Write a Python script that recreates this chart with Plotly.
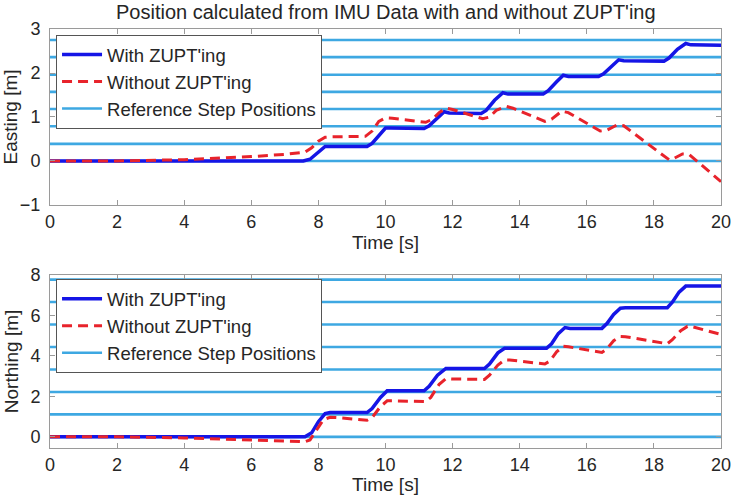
import plotly.graph_objects as go

# ---------------- data ----------------
title_text = "Position calculated from IMU Data with and without ZUPT'ing"

# Easting (top)
t_zupt_e = [0, 7.55, 7.75, 8.0, 8.2, 8.35, 9.45, 9.6, 9.85, 10.0, 10.15, 11.15, 11.3, 11.55, 11.75, 11.9,
            12.85, 13.0, 13.25, 13.5, 13.65, 14.7, 14.85, 15.1, 15.3, 15.45, 16.35, 16.5, 16.75, 16.95, 17.1,
            18.3, 18.45, 18.7, 18.95, 19.1, 20]
east_zupt = [0, 0, 0.04, 0.2, 0.33, 0.33, 0.33, 0.4, 0.62, 0.75, 0.75, 0.74, 0.8, 0.98, 1.12, 1.09,
             1.08, 1.15, 1.38, 1.55, 1.52, 1.52, 1.6, 1.8, 1.95, 1.92, 1.92, 1.98, 2.16, 2.3, 2.28,
             2.27, 2.34, 2.54, 2.67, 2.64, 2.63]

t_raw_e = [0, 2, 4, 5, 6, 7, 7.6, 7.8, 8.0, 8.2, 8.4, 9.4, 9.6, 9.8, 10.0, 10.2, 11.2, 11.4, 11.6, 11.8, 12.0,
           12.9, 13.1, 13.3, 13.6, 13.8, 14.75, 14.95, 15.25, 15.45, 16.4, 16.6, 16.9, 17.1, 18.45, 18.6,
           18.85, 19.05, 20]
east_raw = [0, 0, 0.03, 0.06, 0.1, 0.15, 0.2, 0.3, 0.45, 0.54, 0.55, 0.56, 0.68, 0.9, 0.98, 0.97, 0.88, 0.95,
            1.1, 1.2, 1.17, 0.96, 1.0, 1.15, 1.24, 1.2, 0.9, 0.95, 1.13, 1.1, 0.68, 0.7, 0.82, 0.8, 0.03, 0.06,
            0.16, 0.15, -0.47]

east_ref_levels = [0, 0.39, 0.79, 1.18, 1.57, 1.96, 2.36, 2.75]

# Northing (bottom)
t_zupt_n = [0, 7.6, 7.8, 8.0, 8.2, 8.35, 9.45, 9.6, 9.85, 10.05, 10.2, 11.15, 11.3, 11.55, 11.8, 11.95,
            12.95, 13.1, 13.35, 13.55, 13.7, 14.8, 14.95, 15.15, 15.35, 15.5, 16.45, 16.6, 16.8, 17.0, 17.15,
            18.4, 18.55, 18.75, 18.95, 19.1, 20]
north_zupt = [0, 0, 0.2, 0.75, 1.15, 1.2, 1.2, 1.4, 1.95, 2.28, 2.28, 2.28, 2.5, 3.05, 3.38, 3.38,
              3.38, 3.6, 4.15, 4.38, 4.38, 4.38, 4.6, 5.1, 5.4, 5.36, 5.36, 5.6, 6.05, 6.36, 6.38,
              6.38, 6.65, 7.15, 7.45, 7.46, 7.46]

t_raw_n = [0, 2, 4, 5, 6, 7, 7.6, 7.75, 7.95, 8.15, 8.35, 8.6, 9.45, 9.6, 9.85, 10.05, 10.2, 11.2, 11.35, 11.6,
           11.8, 12.0, 12.95, 13.1, 13.35, 13.55, 13.7, 14.75, 14.9, 15.1, 15.3, 15.45, 16.45, 16.6, 16.8, 17.0,
           17.15, 18.4, 18.55, 18.8, 19.0, 19.15, 20]
north_raw = [0, 0, -0.05, -0.1, -0.15, -0.2, -0.24, -0.15, 0.35, 0.85, 0.97, 0.95, 0.82, 0.95, 1.5, 1.78, 1.78,
             1.75, 1.95, 2.6, 2.88, 2.86, 2.84, 3.05, 3.55, 3.8, 3.8, 3.6, 3.75, 4.2, 4.48, 4.45, 4.17, 4.35,
             4.75, 4.96, 4.95, 4.6, 4.8, 5.25, 5.46, 5.44, 5.06]

north_ref_levels = [0, 1.11, 2.22, 3.33, 4.44, 5.55, 6.66, 7.77]

t_range = [0, 20]
x_ticks = [0, 2, 4, 6, 8, 10, 12, 14, 16, 18, 20]
east_ticks = [-1, 0, 1, 2, 3]
north_ticks = [0, 2, 4, 6, 8]

# ---------------- styles ----------------
BLUE = "#1515e6"
RED = "#e8232b"
REF = "#3ea8e2"
FONT = "Liberation Sans, Arial, sans-serif"
TXT = "#262626"
AX = "#9a9a9a"


def ref_xy(levels):
    xs, ys = [], []
    for lv in levels:
        xs += [t_range[0], t_range[1], None]
        ys += [lv, lv, None]
    return xs, ys


fig = go.Figure()

for (levels, tz, vz, tr, vr, xa, ya, lg) in [
    (east_ref_levels, t_zupt_e, east_zupt, t_raw_e, east_raw, "x", "y", "legend"),
    (north_ref_levels, t_zupt_n, north_zupt, t_raw_n, north_raw, "x2", "y2", "legend2"),
]:
    rx, ry = ref_xy(levels)
    fig.add_trace(go.Scatter(x=rx, y=ry, mode="lines", name="Reference Step Positions",
                             line=dict(color=REF, width=2.6), xaxis=xa, yaxis=ya,
                             legend=lg, legendrank=3, hoverinfo="skip"))
    fig.add_trace(go.Scatter(x=tz, y=vz, mode="lines", name="With ZUPT'ing",
                             line=dict(color=BLUE, width=3.5), xaxis=xa, yaxis=ya,
                             legend=lg, legendrank=1))
    fig.add_trace(go.Scatter(x=tr, y=vr, mode="lines", name="Without ZUPT'ing",
                             line=dict(color=RED, width=3, dash="10px,6px"), xaxis=xa, yaxis=ya,
                             legend=lg, legendrank=2))

axis_common = dict(showline=True, linecolor=AX, linewidth=1, mirror="ticks", ticks="inside",
                   ticklen=5, tickcolor=AX, showgrid=False, zeroline=False, automargin=False,
                   tickfont=dict(family=FONT, size=18, color=TXT))

legend_common = dict(bgcolor="white", bordercolor="#555", borderwidth=1, xanchor="left",
                     yanchor="top", font=dict(family=FONT, size=18.5, color=TXT), itemwidth=40,
                     traceorder="normal", tracegroupgap=0)

xtitle = dict(text="Time [s]", font=dict(family=FONT, size=19, color=TXT), standoff=0)

fig.update_layout(
    width=739, height=495,
    margin=dict(l=50, r=18, t=29, b=47),
    paper_bgcolor="white", plot_bgcolor="white",
    showlegend=True,
    xaxis=dict(domain=[0, 1], range=t_range, tickvals=x_ticks, anchor="y", ticklabelstandoff=0,
               title=xtitle, **axis_common),
    yaxis=dict(domain=[0.58, 1], range=[-1, 3], tickvals=east_ticks, anchor="x",
               ticklabelstandoff=5,
               title=dict(text="Easting [m]", font=dict(family=FONT, size=19, color=TXT), standoff=6),
               **axis_common),
    xaxis2=dict(domain=[0, 1], range=t_range, tickvals=x_ticks, anchor="y2", ticklabelstandoff=0,
                title=xtitle, **axis_common),
    yaxis2=dict(domain=[0, 0.413], range=[-0.55, 8], tickvals=north_ticks, anchor="x2",
                ticklabelstandoff=5,
                title=dict(text="Northing [m]", font=dict(family=FONT, size=19, color=TXT), standoff=6),
                **axis_common),
    legend=dict(x=0.009, y=0.986, **legend_common),
    legend2=dict(x=0.009, y=0.403, **legend_common),
    annotations=[dict(text=title_text, xref="paper", yref="paper", x=0.5, y=1.0, yshift=17,
                      xanchor="center", yanchor="middle", showarrow=False,
                      font=dict(family=FONT, size=20, color=TXT))],
)

fig.write_html("out.html")
